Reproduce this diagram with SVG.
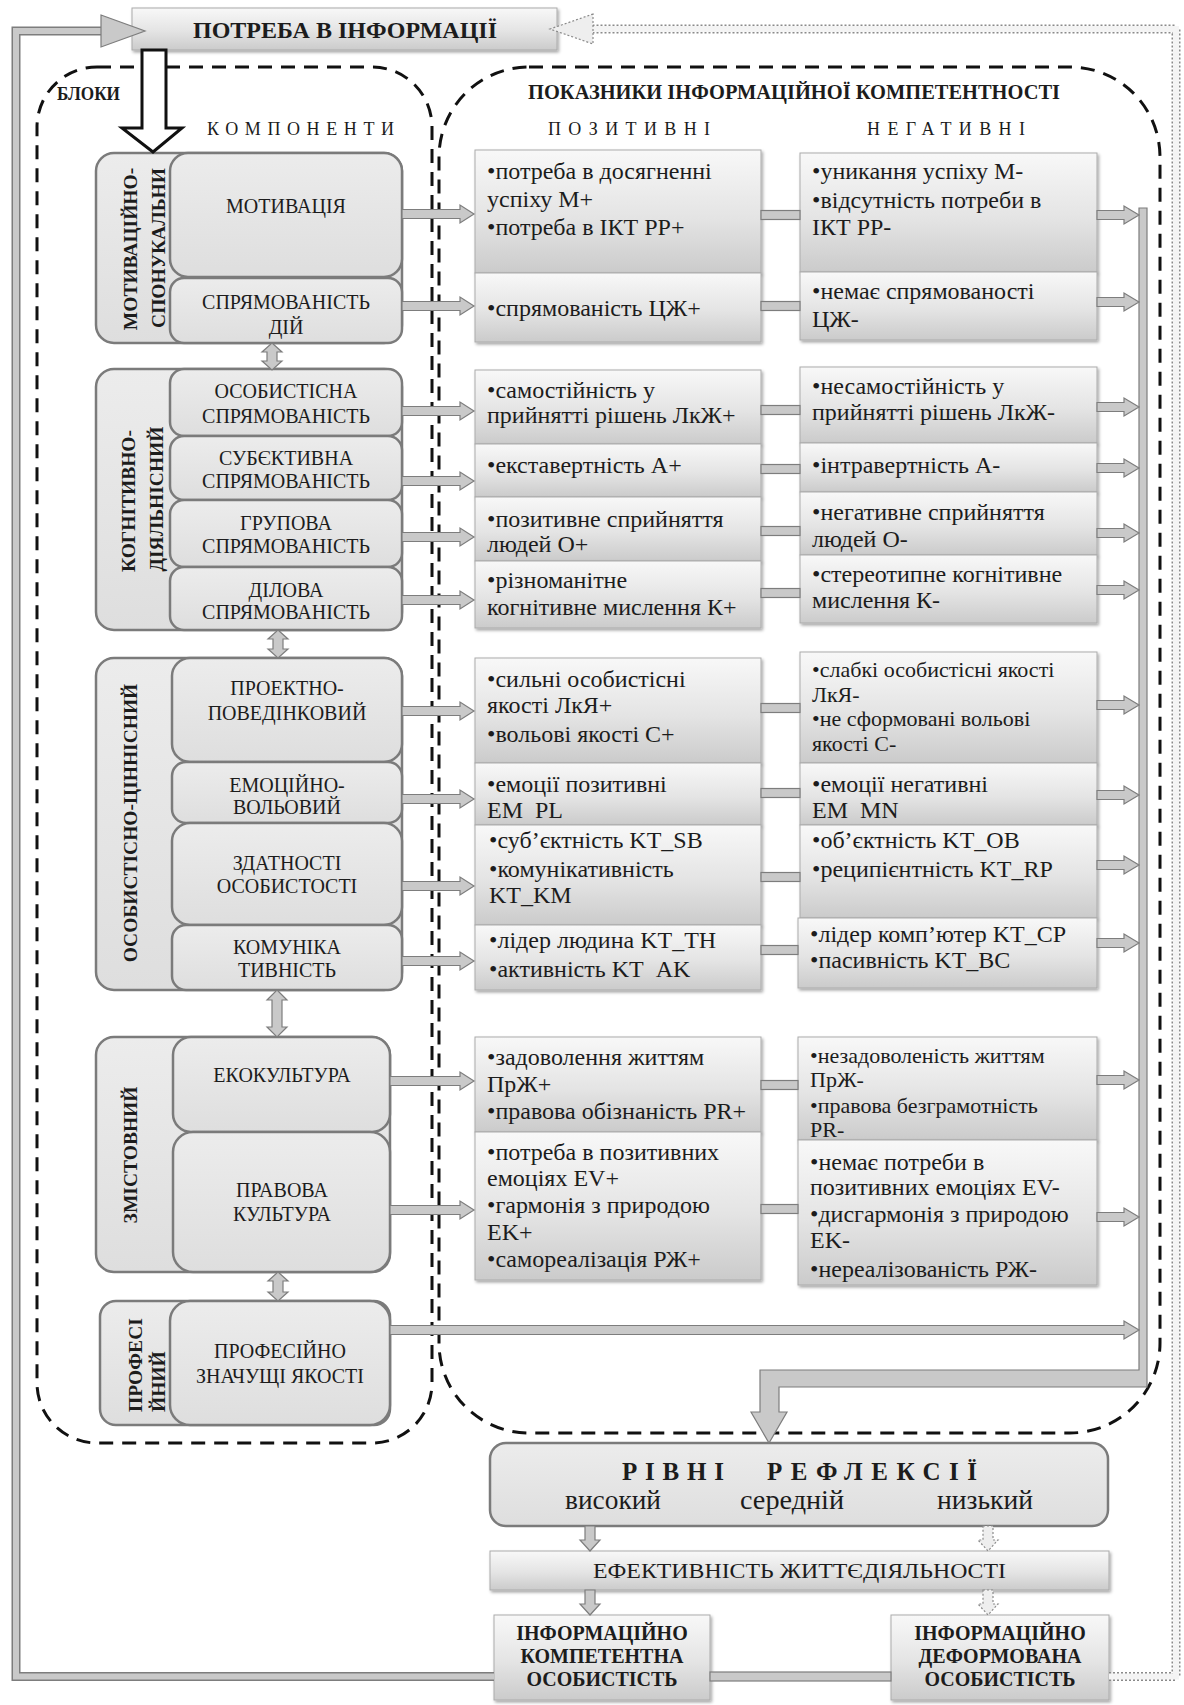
<svg xmlns="http://www.w3.org/2000/svg" width="1184" height="1705" viewBox="0 0 1184 1705">
<defs>
<linearGradient id="g" x1="0" y1="0" x2="0" y2="1">
<stop offset="0" stop-color="#f8f8f8"/><stop offset="0.55" stop-color="#e4e4e4"/><stop offset="1" stop-color="#cbcbcb"/>
</linearGradient>
<linearGradient id="gc" x1="0" y1="0" x2="0" y2="1">
<stop offset="0" stop-color="#ececec"/><stop offset="1" stop-color="#dedede"/>
</linearGradient>
<filter id="sh" x="-5%" y="-10%" width="115%" height="130%">
<feDropShadow dx="1.5" dy="2" stdDeviation="1.5" flood-color="#000" flood-opacity="0.35"/>
</filter>
<style>
text{font-family:"Liberation Serif","Times New Roman",serif;fill:#1c1c1c}
.dash{fill:none;stroke:#111;stroke-width:3;stroke-dasharray:14 9}
.blk{fill:url(#gc);stroke:#7b7b7b;stroke-width:2.5}
.ct{font-size:20px;text-anchor:middle}
.vl{font-size:19.5px;font-weight:bold;text-anchor:middle}
.ind{fill:url(#g);stroke:#ababab;stroke-width:1;filter:url(#sh)}
.it{font-size:24px}
.it2{font-size:22px}
.bar{fill:#c9c9c9;stroke:#7d7d7d;stroke-width:1.2}
.dot{fill:#eeeeee;stroke:#8a8a8a;stroke-width:1.2;stroke-dasharray:2 2}
.hb{font-weight:bold}
.sp{font-size:18px}
.bb{font-size:20px;font-weight:bold;text-anchor:middle}
</style>
</defs>
<rect width="1184" height="1705" fill="#ffffff"/>

<!-- dashed containers -->
<rect id="blocksFrame" class="dash" x="37" y="67" width="395" height="1376" rx="60" ry="60"/>
<rect id="indicatorsFrame" class="dash" x="439" y="67" width="721" height="1366" rx="90" ry="90"/>

<!-- header texts -->
<g id="headers">
<text x="57" y="100" class="hb" font-size="18" textLength="63" lengthAdjust="spacingAndGlyphs">БЛОКИ</text>
<text x="207" y="135" class="sp" textLength="187" lengthAdjust="spacing">КОМПОНЕНТИ</text>
<text x="528" y="99" class="hb" font-size="20" textLength="532" lengthAdjust="spacingAndGlyphs">ПОКАЗНИКИ ІНФОРМАЦІЙНОЇ КОМПЕТЕНТНОСТІ</text>
<text x="548" y="135" class="sp" textLength="162" lengthAdjust="spacing">ПОЗИТИВНІ</text>
<text x="867" y="135" class="sp" textLength="158" lengthAdjust="spacing">НЕГАТИВНІ</text>
</g>

<!-- title -->
<g id="title">
<rect x="132" y="8" width="425" height="42" fill="url(#g)" stroke="#aaaaaa" stroke-width="1" filter="url(#sh)"/>
<text x="345" y="38" font-size="24" class="hb" text-anchor="middle">ПОТРЕБА В ІНФОРМАЦІЇ</text>
</g>

<!-- block 1 -->
<g id="block1">
<rect class="blk" x="96" y="153" width="306" height="190" rx="18"/>
<text class="vl" transform="translate(137,249) rotate(-90)">МОТИВАЦІЙНО-</text>
<text class="vl" transform="translate(165,248) rotate(-90)">СПОНУКАЛЬНИ</text>
<g id="c-motyvatsiia"><rect class="blk" x="170" y="153" width="232" height="124" rx="18"/>
<text class="ct" x="286" y="213">МОТИВАЦІЯ</text></g>
<g id="c-spriamovanist-dii"><rect class="blk" x="170" y="278" width="232" height="65" rx="14"/>
<text class="ct" x="286" y="309">СПРЯМОВАНІСТЬ</text><text class="ct" x="286" y="334">ДІЙ</text></g>
</g>

<!-- block 2 -->
<g id="block2">
<rect class="blk" x="96" y="369" width="306" height="261" rx="18"/>
<text class="vl" transform="translate(135,501) rotate(-90)">КОГНІТИВНО-</text>
<text class="vl" transform="translate(163,499) rotate(-90)">ДІЯЛЬНІСНИЙ</text>
<g id="c-osobystisna"><rect class="blk" x="170" y="369" width="232" height="67" rx="14"/>
<text class="ct" x="286" y="398">ОСОБИСТІСНА</text><text class="ct" x="286" y="423">СПРЯМОВАНІСТЬ</text></g>
<g id="c-subiektyvna"><rect class="blk" x="170" y="436" width="232" height="64" rx="14"/>
<text class="ct" x="286" y="465">СУБЄКТИВНА</text><text class="ct" x="286" y="488">СПРЯМОВАНІСТЬ</text></g>
<g id="c-hrupova"><rect class="blk" x="170" y="500" width="232" height="67" rx="14"/>
<text class="ct" x="286" y="530">ГРУПОВА</text><text class="ct" x="286" y="553">СПРЯМОВАНІСТЬ</text></g>
<g id="c-dilova"><rect class="blk" x="170" y="567" width="232" height="63" rx="14"/>
<text class="ct" x="286" y="597">ДІЛОВА</text><text class="ct" x="286" y="619">СПРЯМОВАНІСТЬ</text></g>
</g>

<!-- block 3 -->
<g id="block3">
<rect class="blk" x="96" y="658" width="306" height="332" rx="18"/>
<text class="vl" transform="translate(137,823) rotate(-90)">ОСОБИСТІСНО-ЦІННІСНИЙ</text>
<g id="c-proektno"><rect class="blk" x="172" y="658" width="230" height="104" rx="18"/>
<text class="ct" x="287" y="695">ПРОЕКТНО-</text><text class="ct" x="287" y="720">ПОВЕДІНКОВИЙ</text></g>
<g id="c-emotsiino"><rect class="blk" x="172" y="762" width="230" height="61" rx="14"/>
<text class="ct" x="287" y="792">ЕМОЦІЙНО-</text><text class="ct" x="287" y="814">ВОЛЬОВИЙ</text></g>
<g id="c-zdatnosti"><rect class="blk" x="172" y="823" width="230" height="102" rx="18"/>
<text class="ct" x="287" y="870">ЗДАТНОСТІ</text><text class="ct" x="287" y="893">ОСОБИСТОСТІ</text></g>
<g id="c-komunika"><rect class="blk" x="172" y="925" width="230" height="65" rx="14"/>
<text class="ct" x="287" y="954">КОМУНІКА</text><text class="ct" x="287" y="977">ТИВНІСТЬ</text></g>
</g>

<!-- block 4 -->
<g id="block4">
<rect class="blk" x="96" y="1037" width="294" height="235" rx="18"/>
<text class="vl" transform="translate(137,1155) rotate(-90)">ЗМІСТОВНИЙ</text>
<g id="c-ekokultura"><rect class="blk" x="173" y="1037" width="217" height="95" rx="18"/>
<text class="ct" x="282" y="1082">ЕКОКУЛЬТУРА</text></g>
<g id="c-pravova"><rect class="blk" x="173" y="1132" width="217" height="140" rx="20"/>
<text class="ct" x="282" y="1197">ПРАВОВА</text><text class="ct" x="282" y="1221">КУЛЬТУРА</text></g>
</g>

<!-- block 5 -->
<g id="block5">
<rect class="blk" x="100" y="1301" width="290" height="124" rx="16"/>
<text class="vl" style="text-anchor:start" transform="translate(142,1412) rotate(-90)">ПРОФЕСІ</text>
<text class="vl" style="text-anchor:start" transform="translate(165,1412) rotate(-90)">ЙНИЙ</text>
<g id="c-profesiino"><rect class="blk" x="170" y="1301" width="220" height="124" rx="20"/>
<text class="ct" x="280" y="1358">ПРОФЕСІЙНО</text><text class="ct" x="280" y="1383">ЗНАЧУЩІ ЯКОСТІ</text></g>
</g>

<!-- positive indicators -->
<g id="p1"><rect class="ind" x="475" y="150" width="286" height="123"/>
<text class="it" x="487" y="179">•потреба в досягненні</text><text class="it" x="487" y="207">успіху М+</text><text class="it" x="487" y="235">•потреба в ІКТ РР+</text></g>
<g id="p2"><rect class="ind" x="475" y="273" width="286" height="69"/>
<text class="it" x="487" y="316">•спрямованість ЦЖ+</text></g>
<g id="p3"><rect class="ind" x="475" y="370" width="286" height="74"/>
<text class="it" x="487" y="398">•самостійність у</text><text class="it" x="487" y="423">прийнятті рішень ЛкЖ+</text></g>
<g id="p4"><rect class="ind" x="475" y="444" width="286" height="53"/>
<text class="it" x="487" y="473">•екставертність А+</text></g>
<g id="p5"><rect class="ind" x="475" y="497" width="286" height="64"/>
<text class="it" x="487" y="527">•позитивне сприйняття</text><text class="it" x="487" y="552">людей О+</text></g>
<g id="p6"><rect class="ind" x="475" y="561" width="286" height="67"/>
<text class="it" x="487" y="588">•різноманітне</text><text class="it" x="487" y="615">когнітивне мислення К+</text></g>
<g id="p7"><rect class="ind" x="475" y="658" width="286" height="105"/>
<text class="it" x="487" y="687">•сильні особистісні</text><text class="it" x="487" y="713">якості ЛкЯ+</text><text class="it" x="487" y="742">•вольові якості С+</text></g>
<g id="p8"><rect class="ind" x="475" y="763" width="286" height="62"/>
<text class="it" x="487" y="792">•емоції позитивні</text><text class="it" x="487" y="818">EM&#160;&#160;PL</text></g>
<g id="p9"><rect class="ind" x="475" y="825" width="286" height="100"/>
<text class="it" x="489" y="848">•суб’єктність KT_SB</text><text class="it" x="489" y="877">•комунікативність</text><text class="it" x="489" y="903">KT_KM</text></g>
<g id="p10"><rect class="ind" x="475" y="925" width="286" height="65"/>
<text class="it" x="489" y="948">•лідер людина KT_TH</text><text class="it" x="489" y="977">•активність KT&#160;&#160;AK</text></g>
<g id="p11"><rect class="ind" x="475" y="1037" width="286" height="95"/>
<text class="it" x="487" y="1065">•задоволення життям</text><text class="it" x="487" y="1092">ПрЖ+</text><text class="it" x="487" y="1119">•правова обізнаність PR+</text></g>
<g id="p12"><rect class="ind" x="475" y="1132" width="286" height="148"/>
<text class="it" x="487" y="1160">•потреба в позитивних</text><text class="it" x="487" y="1186">емоціях EV+</text><text class="it" x="487" y="1213">•гармонія з природою</text><text class="it" x="487" y="1240">EK+</text><text class="it" x="487" y="1267">•самореалізація РЖ+</text></g>

<!-- negative indicators -->
<g id="n1"><rect class="ind" x="800" y="153" width="297" height="119"/>
<text class="it" x="812" y="179">•уникання успіху М-</text><text class="it" x="812" y="208">•відсутність потреби в</text><text class="it" x="812" y="235">ІКТ РР-</text></g>
<g id="n2"><rect class="ind" x="800" y="272" width="297" height="68"/>
<text class="it" x="812" y="299">•немає спрямованості</text><text class="it" x="812" y="327">ЦЖ-</text></g>
<g id="n3"><rect class="ind" x="800" y="367" width="297" height="76"/>
<text class="it" x="812" y="394">•несамостійність у</text><text class="it" x="812" y="420">прийнятті рішень ЛкЖ-</text></g>
<g id="n4"><rect class="ind" x="800" y="443" width="297" height="49"/>
<text class="it" x="812" y="473">•інтравертність А-</text></g>
<g id="n5"><rect class="ind" x="800" y="492" width="297" height="63"/>
<text class="it" x="812" y="520">•негативне сприйняття</text><text class="it" x="812" y="547">людей О-</text></g>
<g id="n6"><rect class="ind" x="800" y="555" width="297" height="68"/>
<text class="it" x="812" y="582">•стереотипне когнітивне</text><text class="it" x="812" y="608">мислення К-</text></g>
<g id="n7"><rect class="ind" x="800" y="652" width="297" height="111"/>
<text class="it2" x="812" y="677">•слабкі особистісні якості</text><text class="it2" x="812" y="702">ЛкЯ-</text><text class="it2" x="812" y="726">•не сформовані вольові</text><text class="it2" x="812" y="751">якості С-</text></g>
<g id="n8"><rect class="ind" x="800" y="763" width="297" height="62"/>
<text class="it" x="812" y="792">•емоції негативні</text><text class="it" x="812" y="818">EM&#160;&#160;MN</text></g>
<g id="n9"><rect class="ind" x="800" y="825" width="297" height="93"/>
<text class="it" x="812" y="848">•об’єктність KT_OB</text><text class="it" x="812" y="877">•реципієнтність KT_RP</text></g>
<g id="n10"><rect class="ind" x="798" y="918" width="299" height="70"/>
<text class="it" x="810" y="942">•лідер комп’ютер KT_CP</text><text class="it" x="810" y="968">•пасивність KT_BC</text></g>
<g id="n11"><rect class="ind" x="798" y="1037" width="299" height="103"/>
<text class="it2" x="810" y="1063">•незадоволеність життям</text><text class="it2" x="810" y="1087">ПрЖ-</text><text class="it2" x="810" y="1113">•правова безграмотність</text><text class="it2" x="810" y="1137">PR-</text></g>
<g id="n12"><rect class="ind" x="798" y="1140" width="299" height="145"/>
<text class="it" x="810" y="1170">•немає потреби в</text><text class="it" x="810" y="1195">позитивних емоціях EV-</text><text class="it" x="810" y="1222">•дисгармонія з природою</text><text class="it" x="810" y="1248">EK-</text><text class="it" x="810" y="1277">•нереалізованість РЖ-</text></g>

<!-- bottom nodes -->
<g id="rivni">
<rect x="490" y="1443" width="618" height="83" rx="16" fill="url(#gc)" stroke="#7b7b7b" stroke-width="2.5"/>
<text x="622" y="1480" class="hb" font-size="25" textLength="102" lengthAdjust="spacing">РІВНІ</text>
<text x="767" y="1480" class="hb" font-size="25" textLength="210" lengthAdjust="spacing">РЕФЛЕКСІЇ</text>
<text x="565" y="1509" font-size="27" textLength="96" lengthAdjust="spacingAndGlyphs">високий</text>
<text x="740" y="1509" font-size="27" textLength="104" lengthAdjust="spacingAndGlyphs">середній</text>
<text x="937" y="1509" font-size="27" textLength="96" lengthAdjust="spacingAndGlyphs">низький</text>
</g>
<g id="efektyvnist">
<rect class="ind" x="490" y="1551" width="619" height="39"/>
<text x="593" y="1578" font-size="22" textLength="413" lengthAdjust="spacingAndGlyphs">ЕФЕКТИВНІСТЬ ЖИТТЄДІЯЛЬНОСТІ</text>
</g>
<g id="kompetentna">
<rect class="ind" x="494" y="1615" width="216" height="85"/>
<text class="bb" x="602" y="1640">ІНФОРМАЦІЙНО</text><text class="bb" x="602" y="1663">КОМПЕТЕНТНА</text><text class="bb" x="602" y="1686">ОСОБИСТІСТЬ</text>
</g>
<g id="deformovana">
<rect class="ind" x="891" y="1615" width="218" height="85"/>
<text class="bb" x="1000" y="1640">ІНФОРМАЦІЙНО</text><text class="bb" x="1000" y="1663">ДЕФОРМОВАНА</text><text class="bb" x="1000" y="1686">ОСОБИСТІСТЬ</text>
</g>

<!-- connectors -->
<g id="connectors">
<!-- left solid feedback -->
<polyline points="494,1676.5 16,1676.5 16,31 102,31" fill="none" stroke="#7d7d7d" stroke-width="9" stroke-linejoin="miter"/>
<polyline points="494,1676.5 16,1676.5 16,31 102,31" fill="none" stroke="#c9c9c9" stroke-width="6" stroke-linejoin="miter"/>
<polygon class="bar" points="101,15 145,31 101,47"/>
<!-- right dotted feedback -->
<polyline points="1109,1676.5 1176,1676.5 1176,29 593,29" fill="none" stroke="#8a8a8a" stroke-width="9" stroke-dasharray="2 2"/>
<polyline points="1109,1676.5 1176,1676.5 1176,29 593,29" fill="none" stroke="#f4f4f4" stroke-width="6"/>
<polygon class="dot" points="593,14 550,29 593,44"/>
<!-- bottom link -->
<rect class="bar" x="710" y="1672" width="181" height="9"/>
<!-- big input arrow -->
<polygon points="142,50 166,50 166,128 182,128 153,152 122,128 142,128" fill="#ffffff" stroke="#111" stroke-width="3" stroke-linejoin="miter"/>
<!-- between blocks -->
<polygon class="bar" points="272,343 282,352 277,352 277,361 282,361 272,370 262,361 267,361 267,352 262,352"/>
<polygon class="bar" points="278,630 288,639 283,639 283,649 288,649 278,658 268,649 273,649 273,639 268,639"/>
<polygon class="bar" points="277,990 287,1000 282,1000 282,1027 287,1027 277,1037 267,1027 272,1027 272,1000 267,1000"/>
<polygon class="bar" points="278,1272 288,1281 283,1281 283,1292 288,1292 278,1301 268,1292 273,1292 273,1281 268,1281"/>
<!-- component -> positive -->
<polygon class="bar" points="402,209.5 460,209.5 460,205 474,214 460,223 460,218.5 402,218.5"/>
<polygon class="bar" points="402,301.5 460,301.5 460,297 474,306 460,315 460,310.5 402,310.5"/>
<polygon class="bar" points="402,406.5 460,406.5 460,402 474,411 460,420 460,415.5 402,415.5"/>
<polygon class="bar" points="402,476.5 460,476.5 460,472 474,481 460,490 460,485.5 402,485.5"/>
<polygon class="bar" points="402,532.5 460,532.5 460,528 474,537 460,546 460,541.5 402,541.5"/>
<polygon class="bar" points="402,595.5 460,595.5 460,591 474,600 460,609 460,604.5 402,604.5"/>
<polygon class="bar" points="402,706.5 460,706.5 460,702 474,711 460,720 460,715.5 402,715.5"/>
<polygon class="bar" points="402,794.5 460,794.5 460,790 474,799 460,808 460,803.5 402,803.5"/>
<polygon class="bar" points="402,881.5 460,881.5 460,877 474,886 460,895 460,890.5 402,890.5"/>
<polygon class="bar" points="402,956.5 460,956.5 460,952 474,961 460,970 460,965.5 402,965.5"/>
<polygon class="bar" points="390,1076.5 460,1076.5 460,1072 474,1081 460,1090 460,1085.5 390,1085.5"/>
<polygon class="bar" points="390,1205.5 460,1205.5 460,1201 474,1210 460,1219 460,1214.5 390,1214.5"/>
<!-- positive -> negative -->
<rect class="bar" x="761" y="210.5" width="39" height="9"/>
<rect class="bar" x="761" y="301.5" width="39" height="9"/>
<rect class="bar" x="761" y="405.5" width="39" height="9"/>
<rect class="bar" x="761" y="464.5" width="39" height="9"/>
<rect class="bar" x="761" y="526.5" width="39" height="9"/>
<rect class="bar" x="761" y="588.5" width="39" height="9"/>
<rect class="bar" x="761" y="703.5" width="39" height="9"/>
<rect class="bar" x="761" y="788.5" width="39" height="9"/>
<rect class="bar" x="761" y="872.5" width="39" height="9"/>
<rect class="bar" x="761" y="945.5" width="37" height="9"/>
<rect class="bar" x="761" y="1080.5" width="37" height="9"/>
<rect class="bar" x="761" y="1204.5" width="37" height="9"/>
<!-- collector -->
<polygon class="bar" points="1139,208 1147,208 1147,1387 779,1387 779,1412 787,1412 769,1443 751,1412 760,1412 760,1370 1139,1370"/>
<!-- negative -> collector -->
<polygon class="bar" points="1097,210.5 1124,210.5 1124,206 1139,215 1124,224 1124,219.5 1097,219.5"/>
<polygon class="bar" points="1097,297.5 1124,297.5 1124,293 1139,302 1124,311 1124,306.5 1097,306.5"/>
<polygon class="bar" points="1097,402.5 1124,402.5 1124,398 1139,407 1124,416 1124,411.5 1097,411.5"/>
<polygon class="bar" points="1097,463.5 1124,463.5 1124,459 1139,468 1124,477 1124,472.5 1097,472.5"/>
<polygon class="bar" points="1097,528.5 1124,528.5 1124,524 1139,533 1124,542 1124,537.5 1097,537.5"/>
<polygon class="bar" points="1097,585.5 1124,585.5 1124,581 1139,590 1124,599 1124,594.5 1097,594.5"/>
<polygon class="bar" points="1097,700.5 1124,700.5 1124,696 1139,705 1124,714 1124,709.5 1097,709.5"/>
<polygon class="bar" points="1097,790.5 1124,790.5 1124,786 1139,795 1124,804 1124,799.5 1097,799.5"/>
<polygon class="bar" points="1097,860.5 1124,860.5 1124,856 1139,865 1124,874 1124,869.5 1097,869.5"/>
<polygon class="bar" points="1097,938.5 1124,938.5 1124,934 1139,943 1124,952 1124,947.5 1097,947.5"/>
<polygon class="bar" points="1097,1075.5 1124,1075.5 1124,1071 1139,1080 1124,1089 1124,1084.5 1097,1084.5"/>
<polygon class="bar" points="1097,1212.5 1124,1212.5 1124,1208 1139,1217 1124,1226 1124,1221.5 1097,1221.5"/>
<polygon class="bar" points="390,1325.5 1124,1325.5 1124,1321 1139,1330 1124,1339 1124,1334.5 390,1334.5"/>
<!-- bottom small arrows -->
<polygon class="bar" points="585,1526 595,1526 595,1540 600,1540 590,1551 580,1540 585,1540"/>
<polygon class="bar" points="585,1590 595,1590 595,1604 600,1604 590,1615 580,1604 585,1604"/>
<polygon class="dot" points="983,1526 993,1526 993,1540 998,1540 988,1551 978,1540 983,1540"/>
<polygon class="dot" points="983,1590 993,1590 993,1604 998,1604 988,1615 978,1604 983,1604"/>
</g>
</svg>
